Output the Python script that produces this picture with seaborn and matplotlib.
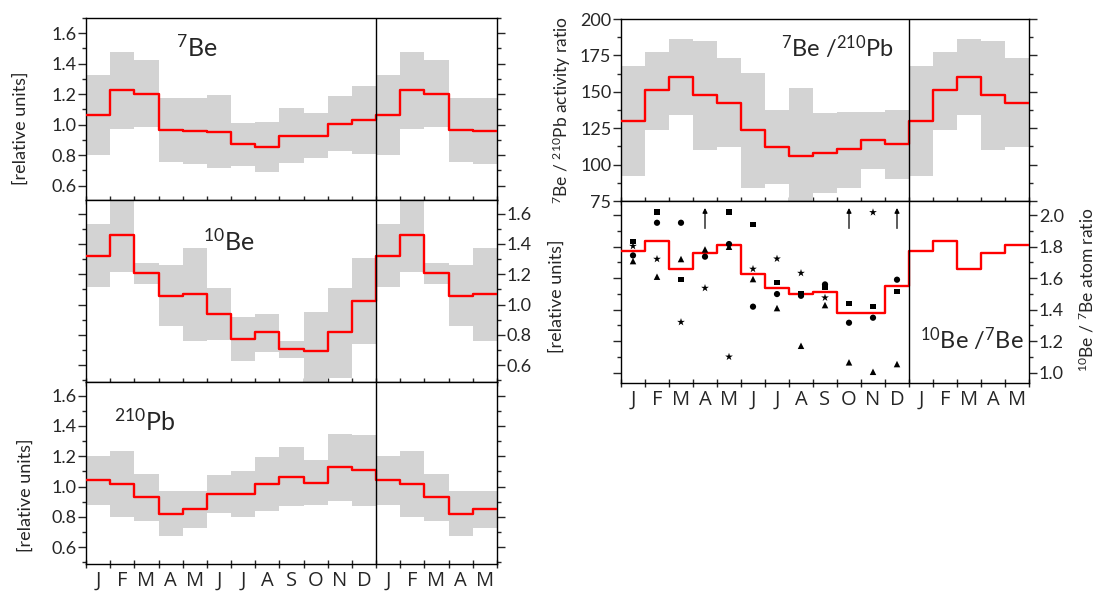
import numpy as np
import pandas as pd
import matplotlib
matplotlib.use("Agg")
import matplotlib.pyplot as plt
import seaborn as sns
from matplotlib.ticker import MultipleLocator, FixedLocator, NullFormatter, FixedFormatter

sns.set_style("ticks")
plt.rcParams["font.family"] = ["Lato", "DejaVu Sans"]
plt.rcParams["mathtext.default"] = "regular"

# ---------------- data ----------------
month_labels = ["J", "F", "M", "A", "M", "J", "J", "A", "S", "O", "N", "D",
                "J", "F", "M", "A", "M"]

be7_mean = [1.065, 1.229, 1.203, 0.966, 0.960, 0.953, 0.870, 0.854, 0.927, 0.927, 1.006, 1.032]
be7_hi = [1.326, 1.477, 1.422, 1.175, 1.175, 1.192, 1.010, 1.019, 1.109, 1.078, 1.186, 1.256]
be7_lo = [0.800, 0.971, 0.984, 0.754, 0.743, 0.714, 0.725, 0.686, 0.748, 0.778, 0.824, 0.806]

be10_mean = [1.320, 1.459, 1.206, 1.056, 1.067, 0.939, 0.774, 0.818, 0.706, 0.697, 0.818, 1.027]
be10_hi = [1.530, 1.750, 1.276, 1.259, 1.375, 1.107, 0.919, 0.941, 0.759, 0.952, 1.111, 1.309]
be10_lo = [1.115, 1.215, 1.137, 0.862, 0.759, 0.770, 0.626, 0.686, 0.648, 0.450, 0.516, 0.743]

pb_mean = [1.044, 1.015, 0.932, 0.820, 0.851, 0.954, 0.949, 1.020, 1.066, 1.024, 1.132, 1.108]
pb_hi = [1.200, 1.233, 1.084, 0.969, 0.969, 1.077, 1.101, 1.193, 1.259, 1.176, 1.347, 1.341]
pb_lo = [0.881, 0.802, 0.776, 0.673, 0.730, 0.824, 0.798, 0.842, 0.870, 0.879, 0.908, 0.875]

ratio_mean = [129.8, 150.9, 160.1, 147.7, 142.4, 123.6, 112.2, 105.7, 107.8, 110.8, 116.7, 114.0]
ratio_hi = [167.9, 177.5, 186.2, 184.6, 172.9, 163.1, 137.4, 152.3, 135.1, 136.2, 135.8, 137.8]
ratio_lo = [92.0, 123.6, 134.0, 110.3, 112.2, 84.2, 86.5, 73.0, 80.5, 84.2, 96.8, 89.9]

atom_mean = [1.772, 1.837, 1.655, 1.761, 1.808, 1.624, 1.535, 1.497, 1.509, 1.378, 1.381, 1.550]

# individual years (month index, value)
sq_month = [0, 1, 2, 4, 5, 6, 7, 8, 9, 10, 11]
sq_val = [1.831, 2.021, 1.590, 2.019, 1.941, 1.573, 1.499, 1.543, 1.440, 1.419, 1.516]
ci_month = [0, 1, 2, 3, 4, 5, 6, 7, 8, 9, 10, 11]
ci_val = [1.744, 1.951, 1.951, 1.736, 1.816, 1.419, 1.499, 1.488, 1.560, 1.317, 1.349, 1.590]
tr_month = [0, 1, 2, 3, 4, 5, 6, 7, 8, 9, 10, 11]
tr_val = [1.708, 1.609, 1.721, 1.782, 1.799, 1.594, 1.410, 1.171, 1.429, 1.066, 1.006, 1.055]
st_month = [0, 1, 2, 3, 4, 5, 6, 7, 8, 10]
st_val = [1.803, 1.721, 1.321, 1.537, 1.101, 1.658, 1.723, 1.632, 1.476, 2.017]
arrow_month = [3, 9, 11]
arrow_from = [1.915, 1.915, 1.915]
arrow_to = [2.045, 2.045, 2.045]

# ---------------- figure ----------------
W, H = 1099, 596
fig = plt.figure(figsize=(W / 100, H / 100), dpi=100)


def box(l, t, r, b):
    return [l / W, 1 - b / H, (r - l) / W, (b - t) / H]


def ext(v):
    v = list(v) + list(v[:5])
    return v + [v[-1]]


NM = len(month_labels)
edges = np.arange(NM + 1)
GREY = "#d3d3d3"
TICK_FS = 13


def panel(rect, mean, hi, lo, ylim, major, minor, ylab_side, show_months):
    ax = fig.add_axes(rect)
    if hi is not None:
        ax.fill_between(edges, ext(lo), ext(hi), step="post", color=GREY, lw=0, zorder=1)
    df = pd.DataFrame({"x": edges, "y": ext(mean)})
    sns.lineplot(data=df, x="x", y="y", drawstyle="steps-post", color="red",
                 lw=1.7, ax=ax, zorder=3)
    ax.axvline(12, color="black", lw=1.0, zorder=4)
    ax.set_xlim(0, NM)
    ax.set_ylim(*ylim)
    ax.set_xlabel("")
    ax.set_ylabel("")
    for s in ax.spines.values():
        s.set_visible(True)
        s.set_linewidth(1.0)
        s.set_color("black")
    ax.xaxis.set_major_locator(FixedLocator(edges))
    ax.xaxis.set_major_formatter(NullFormatter())
    ax.tick_params(axis="x", which="major", direction="inout", length=6, width=1,
                   top=False, bottom=True)
    if show_months:
        ax.xaxis.set_minor_locator(FixedLocator(edges[:-1] + 0.5))
        ax.xaxis.set_minor_formatter(FixedFormatter(month_labels))
        ax.tick_params(axis="x", which="minor", length=0, pad=5, labelsize=14.5,
                       top=False, bottom=True)
        for t in ax.xaxis.get_minorticklabels():
            t.set_fontfamily(["Open Sans", "DejaVu Sans"])
    else:
        ax.xaxis.set_minor_locator(FixedLocator([]))
    ax.yaxis.set_major_locator(MultipleLocator(major))
    ax.yaxis.set_minor_locator(MultipleLocator(minor))
    ax.tick_params(axis="y", which="both", direction="out", left=True, right=True,
                   labelleft=(ylab_side == "left"), labelright=(ylab_side == "right"),
                   labelsize=TICK_FS, pad=1.5, width=1)
    ax.tick_params(axis="y", which="major", length=5.5)
    ax.tick_params(axis="y", which="minor", length=3)
    ax.yaxis.set_major_formatter(matplotlib.ticker.FuncFormatter(
        lambda v, p: f"{v:.1f}" if major < 1 else f"{v:.0f}"))
    return ax


# left column
ax1 = panel(box(86, 18, 497, 200), be7_mean, be7_hi, be7_lo, (0.505, 1.70), 0.2, 0.1, "left", False)
ax2 = panel(box(86, 200, 497, 382), be10_mean, be10_hi, be10_lo, (0.49, 1.69), 0.2, 0.1, "right", False)
ax3 = panel(box(86, 382, 497, 564), pb_mean, pb_hi, pb_lo, (0.49, 1.69), 0.2, 0.1, "left", True)

# right column
ax4 = panel(box(621, 19, 1029, 201), ratio_mean, ratio_hi, ratio_lo, (75, 200), 25, 12.5, "left", False)
ax5 = panel(box(621, 201, 1029, 383), atom_mean, None, None, (0.935, 2.089), 0.2, 0.1, "right", True)

for mm, vv, mk, sz in [(sq_month, sq_val, "s", 16), (ci_month, ci_val, "o", 20),
                       (tr_month, tr_val, "^", 22), (st_month, st_val, "*", 34)]:
    d = pd.DataFrame({"x": np.array(mm) + 0.5, "y": vv})
    sns.scatterplot(data=d, x="x", y="y", marker=mk, s=sz, color="black",
                    edgecolor="none", ax=ax5, zorder=5, legend=False)
for m, y0, y1 in zip(arrow_month, arrow_from, arrow_to):
    ax5.annotate("", xy=(m + 0.5, y1), xytext=(m + 0.5, y0),
                 arrowprops=dict(arrowstyle="-|>", color="black", lw=0.9,
                                 mutation_scale=7, shrinkA=0, shrinkB=0))
ax5.set_xlabel("")
ax5.set_ylabel("")


def ftext(x, y, s, **kw):
    fig.text(x / W, 1 - y / H, s, **kw)


# panel titles
ftext(176, 47, r"$^{7}$Be", fontsize=18, va="center", ha="left")
ftext(203, 241, r"$^{10}$Be", fontsize=18, va="center", ha="left")
ftext(114, 421, r"$^{210}$Pb", fontsize=18, va="center", ha="left")
ftext(781, 47, r"$^{7}$Be /$^{210}$Pb", fontsize=17, va="center", ha="left")
ftext(920, 339, r"$^{10}$Be /$^{7}$Be", fontsize=17, va="center", ha="left")

# axis labels
ftext(21, 128, "[relative units]", fontsize=13, rotation=90, va="center", ha="center")
ftext(26, 495, "[relative units]", fontsize=13, rotation=90, va="center", ha="center")
ftext(557, 296, "[relative units]", fontsize=13, rotation=90, va="center", ha="center")
ftext(562, 110, r"$^{7}$Be / $^{210}$Pb activity ratio", fontsize=12.5, rotation=90,
      va="center", ha="center")
ftext(1087, 290, r"$^{10}$Be / $^{7}$Be atom ratio", fontsize=12.5, rotation=90,
      va="center", ha="center")

fig.savefig("out.png", dpi=100)
